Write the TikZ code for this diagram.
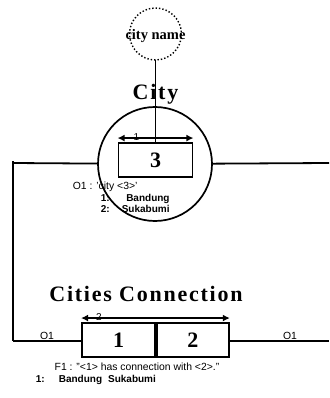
\documentclass[tikz,border=0pt]{standalone}
\usepackage{fontspec}
\setmainfont{Liberation Serif}
\setsansfont{Liberation Sans}
\newfontfamily\headfont[LetterSpace=8]{Liberation Serif}
\usetikzlibrary{arrows.meta}

\tikzset{
  cellbox/.style={draw,line width=1.9pt,minimum height=34pt,inner sep=0pt,font=\bfseries\fontsize{22}{24}\selectfont},
  txt/.style={font=\sffamily\fontsize{10.4}{12.5}\selectfont,inner sep=0pt},
  valtxt/.style={font=\sffamily\bfseries\fontsize{10}{12}\selectfont,inner sep=0pt},
  dimlbl/.style={font=\sffamily\fontsize{10}{11}\selectfont,inner sep=0pt},
  dim/.style={{Latex[length=7pt,width=7pt]}-{Latex[length=7pt,width=7pt]},line width=1.9pt},
}

\begin{document}
\begin{tikzpicture}[x=1pt,y=-1pt,line width=1.8pt]
        \useasboundingbox(0,0)rectangle(329,398);
        % 属性
        \node[font=\bfseries\fontsize{14.5}{16}\selectfont,inner sep=0pt](name)at(155.5,36){city name};
        \draw[dotted,line width=1.4pt](155.5,34)circle(26);
        \coordinate(namebot)at(155.5,60);
        % City
        \node[font=\headfont\bfseries\fontsize{22}{24}\selectfont](cityttl)at(155.5,94){City};
        \node[draw,circle,minimum size=114pt,inner sep=0pt,line width=1.7pt](city)at(155,164){};
        \node[cellbox,minimum width=74pt](box3)at(155.5,160){3};
        \draw(namebot)--(box3.north);
        \draw[dim]([yshift=4pt]box3.north west)--([yshift=4pt]box3.north east)
            node[pos=.25,anchor=south,yshift=-3pt,dimlbl]{1};
        \node[txt,anchor=west](o1)at(72,187){O1 : 'city <3>'};
        \node[valtxt,anchor=north west](vals)at(100,192.5){%
          \begin{tabular}{@{}l@{\hspace{12pt}}r@{}}1: & Bandung\\[-1.5pt] 2: & Sukabumi\end{tabular}};
        % 接続線
        \coordinate(lt)at(13,163);
        \coordinate(rt)at(329,163);
        \coordinate(lb)at(13,341);
        \coordinate(rb)at(329,341);
        \draw(lt)--(city);
        \draw(city)--(rt);
        \draw([yshift=2pt]lt)--(lb);
        % Cities Connection
        \node[font=\headfont\bfseries\fontsize{22}{24}\selectfont](connttl)at(146,294){Cities Connection};
        \node[cellbox,minimum width=73pt](c1)at(118.5,340){1};
        \node[cellbox,minimum width=72pt,anchor=west](c2)at(c1.east){2};
        \draw(lb)--(c1.west |- lb);
        \draw(c2.east |- rb)--(rb);
        \draw[dim]([yshift=4pt]c1.north west)--([yshift=4pt]c2.north east)
            node[pos=.12,anchor=south,yshift=-3pt,dimlbl]{2};
        \node[txt](ol)at(47,336){O1};
        \node[txt](or)at(290,336){O1};
        \node[txt](f1)at(137,367){F1 : "<1> has connection with <2>."};
        \node[valtxt,anchor=west](row)at(35,380){1:\hspace{14pt}Bandung\hspace{6pt}Sukabumi};
\end{tikzpicture}
\end{document}
